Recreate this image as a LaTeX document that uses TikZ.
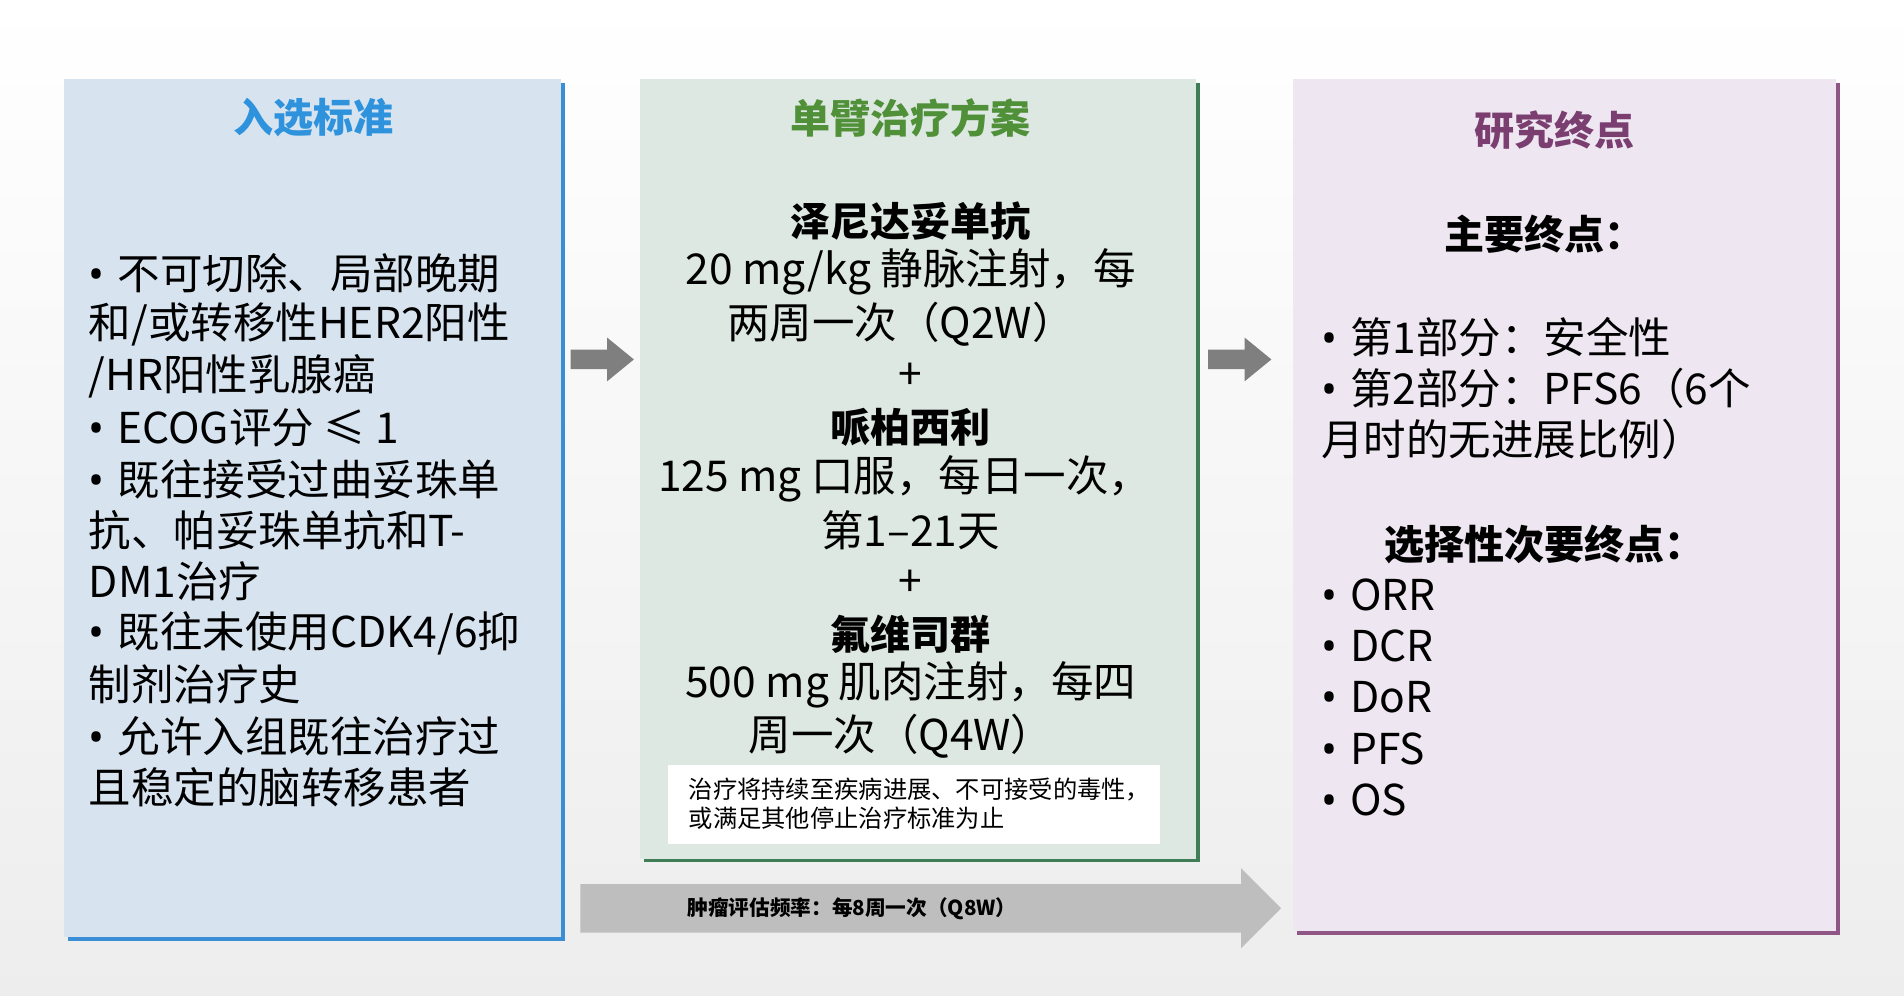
\documentclass[tikz,border=0pt]{standalone}
\usepackage{fontspec}
\setmainfont{Noto Sans CJK SC}
\newfontfamily\bulletfont{Noto Sans}
\newcommand{\bul}{{\bulletfont •}\hspace{0.3em}}
\usetikzlibrary{positioning}
\definecolor{boxblue}{HTML}{D7E4F0}
\definecolor{edgeblue}{HTML}{3A8ED6}
\definecolor{titleblue}{HTML}{2E92DC}
\definecolor{boxgreen}{HTML}{DEE8E3}
\definecolor{edgegreen}{HTML}{3E7D55}
\definecolor{titlegreen}{HTML}{4F9038}
\definecolor{boxpurple}{HTML}{EEE6F0}
\definecolor{edgepurple}{HTML}{8E5585}
\definecolor{titlepurple}{HTML}{7A3F70}
\definecolor{arrowgray}{HTML}{7F7F7F}
\definecolor{bandgray}{HTML}{BEBEBE}
\tikzset{
  body/.style={font=\fontsize{35}{40}\selectfont, inner sep=0pt},
  bodyleft/.style={body, anchor=west},
  boldline/.style={body, font=\fontsize{33}{38}\selectfont\bfseries},
  title/.style={font=\fontsize{33}{38}\selectfont\bfseries, inner sep=0pt},
  smalltext/.style={font=\fontsize{20}{24}\selectfont, anchor=west, align=left, inner sep=0pt},
}
\begin{document}
\begin{tikzpicture}[x=1pt, y=-1pt]

% background
\shade[top color=white, bottom color=black!7] (0,0) rectangle (1568,820);
\useasboundingbox (0,0) rectangle (1568,820);

% three boxes with coloured shadows
\fill[edgeblue] (56,68) rectangle (465,775);
\fill[boxblue] (53,65) rectangle (462,772);
\fill[edgegreen] (530,68) rectangle (988,710);
\fill[boxgreen] (527,65) rectangle (985,707);
\fill[edgepurple] (1068,68) rectangle (1515,770);
\fill[boxpurple] (1065,65) rectangle (1512,767);

% titles
\node[title, text=titleblue] (tleft) at (258,97) {入选标准};
\node[title, text=titlegreen] (tmid) at (750,97) {单臂治疗方案};
\node[title, text=titlepurple] (tright) at (1280,107) {研究终点};

% small arrows between boxes
\fill[arrowgray] (470,288) -- (500,288) -- (500,278) -- (522,296) -- (500,314) -- (500,304) -- (470,304) -- cycle;
\fill[arrowgray] (995,288) -- (1025,288) -- (1025,278) -- (1047,296) -- (1025,314) -- (1025,304) -- (995,304) -- cycle;

% inclusion criteria
\foreach \t [count=\i] in {%
  \bul 不可切除、局部晚期,
  和/或转移性HER2阳性,
  /HR阳性乳腺癌,
  \bul ECOG评分 ≤ 1,
  \bul 既往接受过曲妥珠单,
  抗、帕妥珠单抗和T-,
  DM1治疗,
  \bul 既往未使用CDK4/6抑,
  制剂治疗史,
  \bul 允许入组既往治疗过,
  且稳定的脑转移患者} {
  \node[bodyleft] (l\i) at (73,{183+42.3*\i}) {\t};
}

% treatment
\node[boldline] (m1) at (750,182) {泽尼达妥单抗};
\node[body] (m2) at (750,224) {20 mg/kg 静脉注射，每};
\node[body] (m3) at (742,267) {两周一次（Q2W）};
\node[body] (m4) at (750,310) {+};
\node[boldline] (m5) at (750,352) {哌柏西利};
\node[body] (m6) at (745,394) {125 mg 口服，每日一次，};
\node[body] (m7) at (750,437) {第1–21天};
\node[body] (m8) at (750,480) {+};
\node[boldline] (m9) at (750,522) {氟维司群};
\node[body] (m10) at (750,564) {500 mg 肌肉注射，每四};
\node[body] (m11) at (742,606) {周一次（Q4W）};

% note box
\fill[white] (550,630) rectangle (955,695);
\node[smalltext] (note) at (567,662) {治疗将持续至疾病进展、不可接受的毒性，\\或满足其他停止治疗标准为止};

% endpoints
\node[boldline] (r0) at (1272,193) {主要终点：};
\node[bodyleft] (r1) at (1088,278) {\bul 第1部分：安全性};
\node[bodyleft] (r2) at (1088,320) {\bul 第2部分：PFS6（6个};
\node[bodyleft] (r3) at (1088,362) {月时的无进展比例）};
\node[boldline] (r4) at (1272,448) {选择性次要终点：};
\foreach \t [count=\i] in {ORR, DCR, DoR, PFS, OS} {
  \node[bodyleft] (e\i) at (1088,{447.5+42.3*\i}) {\bul\t};
}

% assessment band
\fill[bandgray] (478,728) -- (1022,728) -- (1022,715) -- (1055,748) -- (1022,781) -- (1022,768) -- (478,768) -- cycle;
\node[font=\fontsize{17}{20}\selectfont\bfseries, anchor=west, inner sep=0pt] (band) at (566,748) {肿瘤评估频率：每8周一次（Q8W）};

\end{tikzpicture}
\end{document}
